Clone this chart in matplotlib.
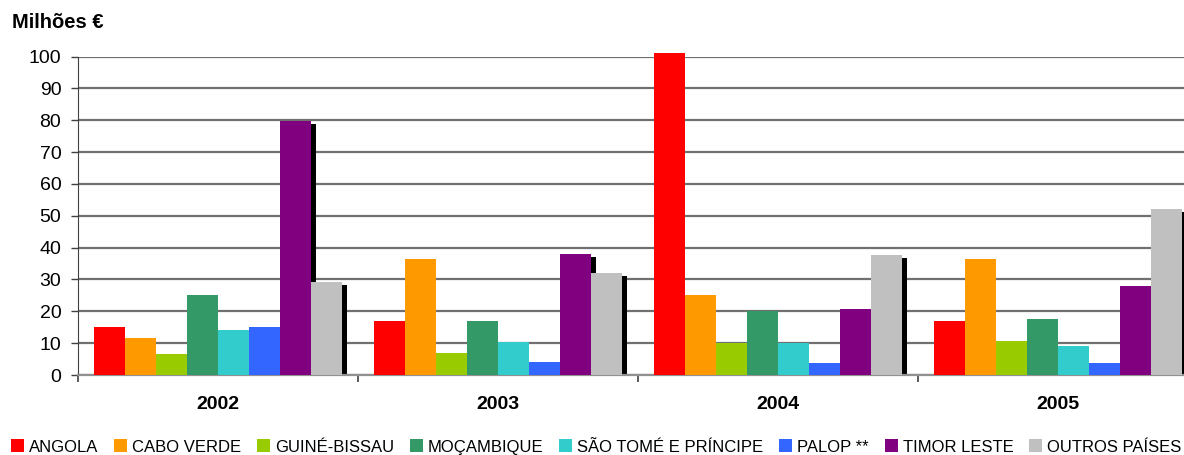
import matplotlib
matplotlib.use("Agg")
import matplotlib.pyplot as plt
import numpy as np
from matplotlib.patches import Patch

plt.rcParams['font.family'] = ['Liberation Sans', 'DejaVu Sans']

years = ["2002", "2003", "2004", "2005"]
countries = ["ANGOLA", "CABO VERDE", "GUINÉ-BISSAU", "MOÇAMBIQUE",
             "SÃO TOMÉ E PRÍNCIPE", "PALOP **", "TIMOR LESTE", "OUTROS PAÍSES"]
colors = ["#FF0000", "#FF9900", "#99CC00", "#339966",
          "#33CCCC", "#3366FF", "#800080", "#C0C0C0"]
# series drawn with a drop shadow
shadowed = [False, False, False, False, False, False, True, True]

angola = [15.1, 16.9, 101.0, 16.8]
cabo_verde = [11.7, 36.4, 25.2, 36.3]
guine_bissau = [6.7, 6.8, 10.1, 10.8]
mocambique = [25.2, 16.9, 20.1, 17.7]
sao_tome = [14.2, 10.3, 10.1, 9.2]
palop = [15.1, 4.0, 3.8, 3.9]
timor_leste = [79.9, 37.9, 20.8, 27.8]
outros = [29.3, 32.0, 37.7, 52.0]

series = [angola, cabo_verde, guine_bissau, mocambique,
          sao_tome, palop, timor_leste, outros]

fig = plt.figure(figsize=(11.84, 4.55), dpi=100)
ax = fig.add_axes([78 / 1184, 1 - 375 / 455, 1120 / 1184, (375 - 56.5) / 455])

x = np.arange(len(years))
n = len(series)
bw = 0.1107
shadow_dx = 0.018
shadow_dy = 0.94

# drop shadows first, then the coloured bars on top
for i, vals in enumerate(series):
    if not shadowed[i]:
        continue
    pos = x + (i - (n - 1) / 2) * bw
    ax.bar(pos + shadow_dx, vals, width=bw, bottom=-shadow_dy,
           color="black", linewidth=0, zorder=2)
for i, vals in enumerate(series):
    pos = x + (i - (n - 1) / 2) * bw
    ax.bar(pos, vals, width=bw, color=colors[i], linewidth=0,
           zorder=3, clip_on=False)

ax.set_xlim(-0.5, 3.5)
ax.set_ylim(0, 100)
ax.set_yticks(np.arange(0, 101, 10))
ax.yaxis.grid(True, color="#707070", linewidth=1.6)
ax.set_axisbelow(True)

ax.set_xticks(x)
ax.set_xticklabels(years, fontsize=14, fontweight="bold")
ax.tick_params(axis="x", length=0, pad=15)
ax.set_xticks(np.arange(-0.5, 4.0, 1.0), minor=True)
ax.tick_params(axis="x", which="minor", length=5, width=1.2, color="#404040")
ax.tick_params(axis="y", labelsize=14, length=5, width=1, color="#404040", pad=7)

for s in ["top", "right"]:
    ax.spines[s].set_visible(False)
ax.spines["left"].set_color("#404040")
ax.spines["bottom"].set_color("#909090")
ax.spines["bottom"].set_linewidth(1.6)

fig.text(12 / 1184, 1 - 22 / 455, "Milhões €", fontsize=14.5, fontweight="bold",
         va="center", ha="left")

handles = [Patch(facecolor=c, edgecolor="none") for c in colors]
fig.legend(handles, countries, loc="center", bbox_to_anchor=(596 / 1184, 1 - 447 / 455),
           ncol=8, frameon=False, fontsize=12, handlelength=0.78, handleheight=0.78,
           handletextpad=0.3, columnspacing=0.95, borderaxespad=0, borderpad=0)

fig.savefig("out.png", dpi=100)
